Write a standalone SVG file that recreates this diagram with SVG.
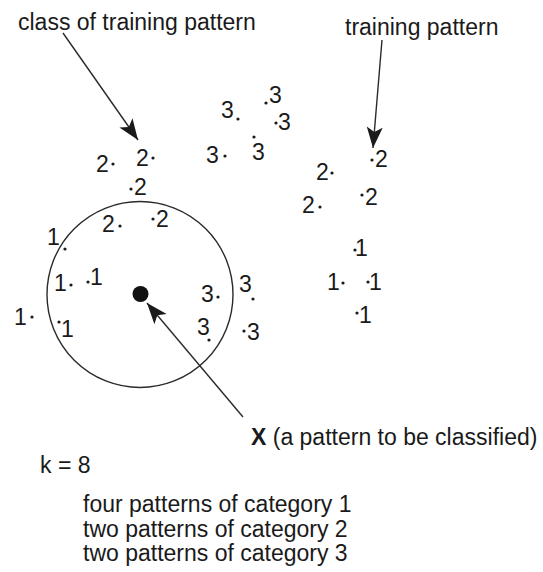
<svg xmlns="http://www.w3.org/2000/svg" width="543" height="572" viewBox="0 0 543 572">
<defs>
<style>
text{font-family:"Liberation Sans",Arial,sans-serif;fill:#1a1a1a;}
.lbl{font-size:23px;}
.d{font-size:23px;}
.pt{fill:#1a1a1a;}
.conn{stroke:#2a2a2a;stroke-width:1.4;fill:none;}
</style>
<marker id="ah" markerUnits="userSpaceOnUse" markerWidth="26" markerHeight="22" viewBox="-23 -11 26 22" refX="0" refY="0" orient="auto">
<path d="M0,0 L-21,-8 L-16,0 L-21,8 Z" fill="#1a1a1a"/>
</marker>
</defs>
<rect width="543" height="572" fill="#ffffff"/>

<g id="neighborhood">
<circle cx="140" cy="294.5" r="93" fill="none" stroke="#2a2a2a" stroke-width="1.4"/>
</g>
<g id="x-pattern">
<circle cx="140.5" cy="294" r="8" fill="#111"/>
</g>

<g id="connectors">
<line class="conn" x1="63" y1="33" x2="138" y2="140" marker-end="url(#ah)"/>
<line class="conn" x1="382" y1="40" x2="373" y2="148" marker-end="url(#ah)"/>
<line class="conn" x1="243" y1="417" x2="147" y2="303" marker-end="url(#ah)"/>
</g>

<g id="label-class"><text class="lbl" x="18" y="30">class of training pattern</text></g>
<g id="label-training"><text class="lbl" x="345" y="35">training pattern</text></g>
<g id="label-x"><text class="lbl" x="251" y="445"><tspan font-weight="bold">X</tspan> (a pattern to be classified)</text></g>
<g id="label-k"><text class="lbl" x="40" y="473">k = 8</text></g>
<g id="label-summary">
<text class="lbl" x="83" y="512">four patterns of category 1</text>
<text class="lbl" x="83" y="537">two patterns of category 2</text>
<text class="lbl" x="83" y="561">two patterns of category 3</text>
</g>

<!-- category 2 patterns, left -->
<g id="p2a"><text class="d" x="96" y="172">2</text><circle class="pt" cx="113" cy="164" r="1.6"/></g>
<g id="p2b"><text class="d" x="136" y="166">2</text><circle class="pt" cx="153" cy="158" r="1.6"/></g>
<g id="p2c"><circle class="pt" cx="131" cy="189" r="1.6"/><text class="d" x="134" y="195">2</text></g>
<g id="p2d"><text class="d" x="102" y="232">2</text><circle class="pt" cx="120" cy="226" r="1.6"/></g>
<g id="p2e"><circle class="pt" cx="153" cy="219" r="1.6"/><text class="d" x="156" y="227">2</text></g>

<!-- category 1 patterns, left -->
<g id="p1a"><text class="d" x="47" y="245">1</text><circle class="pt" cx="65" cy="249" r="1.6"/></g>
<g id="p1b"><text class="d" x="54" y="291">1</text><circle class="pt" cx="71" cy="285" r="1.6"/></g>
<g id="p1c"><circle class="pt" cx="88" cy="282" r="1.6"/><text class="d" x="90" y="285">1</text></g>
<g id="p1d"><text class="d" x="14" y="325">1</text><circle class="pt" cx="32" cy="317" r="1.6"/></g>
<g id="p1e"><circle class="pt" cx="59" cy="322" r="1.6"/><text class="d" x="61" y="337">1</text></g>

<!-- category 3 patterns near circle -->
<g id="p3a"><text class="d" x="201" y="302">3</text><circle class="pt" cx="218" cy="297" r="1.6"/></g>
<g id="p3b"><text class="d" x="239" y="292">3</text><circle class="pt" cx="253" cy="299" r="1.6"/></g>
<g id="p3c"><text class="d" x="197" y="335">3</text><circle class="pt" cx="209" cy="340" r="1.6"/></g>
<g id="p3d"><circle class="pt" cx="244" cy="331" r="1.6"/><text class="d" x="247" y="340">3</text></g>

<!-- category 3 patterns, top -->
<g id="p3e"><text class="d" x="221" y="118">3</text><circle class="pt" cx="238" cy="119" r="1.6"/></g>
<g id="p3f"><circle class="pt" cx="266" cy="103" r="1.6"/><text class="d" x="269" y="103">3</text></g>
<g id="p3g"><circle class="pt" cx="276" cy="123" r="1.6"/><text class="d" x="278" y="130">3</text></g>
<g id="p3h"><text class="d" x="206" y="163">3</text><circle class="pt" cx="225" cy="156" r="1.6"/></g>
<g id="p3i"><circle class="pt" cx="254" cy="137" r="1.6"/><text class="d" x="252" y="160">3</text></g>

<!-- right cluster -->
<g id="p2f"><circle class="pt" cx="372" cy="160" r="1.6"/><text class="d" x="375" y="167">2</text></g>
<g id="p2g"><text class="d" x="316" y="180">2</text><circle class="pt" cx="332" cy="173" r="1.6"/></g>
<g id="p2h"><circle class="pt" cx="362" cy="195" r="1.6"/><text class="d" x="365" y="205">2</text></g>
<g id="p2i"><text class="d" x="302" y="213">2</text><circle class="pt" cx="320" cy="207" r="1.6"/></g>
<g id="p1f"><circle class="pt" cx="355" cy="250" r="1.6"/><text class="d" x="355" y="256">1</text></g>
<g id="p1g"><text class="d" x="327" y="290">1</text><circle class="pt" cx="343" cy="283" r="1.6"/></g>
<g id="p1h"><circle class="pt" cx="368" cy="282" r="1.6"/><text class="d" x="369" y="290">1</text></g>
<g id="p1i"><circle class="pt" cx="357" cy="313" r="1.6"/><text class="d" x="359" y="323">1</text></g>
</svg>
